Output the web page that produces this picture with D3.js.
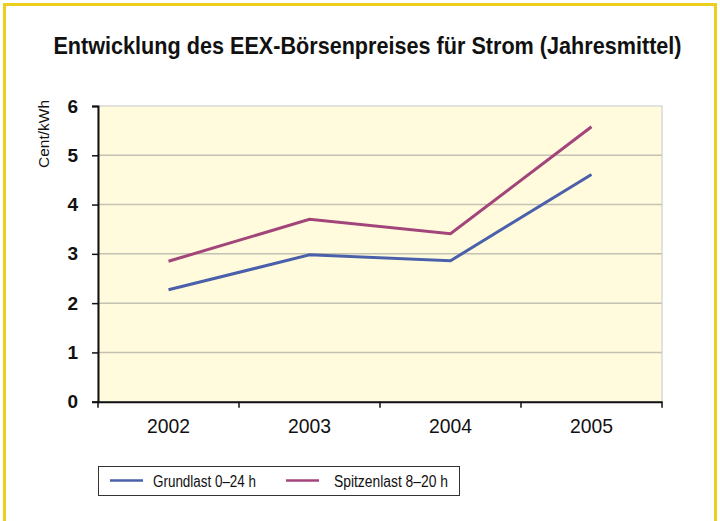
<!DOCTYPE html>
<html>
<head>
<meta charset="utf-8">
<script src="https://cdn.jsdelivr.net/npm/d3@7"></script>
<style>
  body { margin: 0; background: #fff; }
  svg { display: block; }
</style>
</head>
<body>
<div id="chart"></div>
<script>
// data
var years = ['2002', '2003', '2004', '2005'];
var grundlast = [2.27, 2.98, 2.86, 4.61];
var spitzenlast = [2.85, 3.70, 3.41, 5.58];
var seriesNames = ['Grundlast 0\u201324 h', 'Spitzenlast 8\u201320 h'];
var yTicks = [0, 1, 2, 3, 4, 5, 6];

var width = 720;
var height = 521;
var margin = { top: 106, right: 58, bottom: 119.3, left: 98 };
var colors = ['#4a60aa', '#a2457b'];
var font = '"Liberation Sans", Arial, sans-serif';

var svg = d3.select('#chart').append('svg')
  .attr('width', width).attr('height', height);

// yellow outer frame (bottom edge runs off the picture)
svg.append('rect')
  .attr('x', 4.5).attr('y', 4.5)
  .attr('width', 711).attr('height', 540)
  .attr('fill', '#fff')
  .attr('stroke', '#eccf1c').attr('stroke-width', 3);

// the original face is a condensed one, so squeeze the title horizontally
svg.append('text')
  .attr('transform', 'translate(367.5,53.5) scale(0.94,1)')
  .attr('text-anchor', 'middle')
  .attr('font-family', font).attr('font-weight', 'bold')
  .attr('font-size', 23).attr('fill', '#111')
  .text('Entwicklung des EEX-B\u00f6rsenpreises f\u00fcr Strom (Jahresmittel)');

var x = d3.scaleBand().domain(years)
  .range([margin.left, width - margin.right]);
var y = d3.scaleLinear().domain([0, 6])
  .range([height - margin.bottom, margin.top]);

// plot area
svg.append('rect')
  .attr('x', x.range()[0]).attr('y', y(6))
  .attr('width', x.range()[1] - x.range()[0])
  .attr('height', y(0) - y(6))
  .attr('fill', '#fffbdc')
  .attr('stroke', '#d9d9d9').attr('stroke-width', 1.5);

// grid lines
svg.append('g').selectAll('line')
  .data(yTicks.filter(function (d) { return d > 0 && d < 6; }))
  .join('line')
  .attr('x1', x.range()[0]).attr('x2', x.range()[1])
  .attr('y1', function (d) { return y(d); })
  .attr('y2', function (d) { return y(d); })
  .attr('stroke', '#c4c2b4').attr('stroke-width', 1.5);

// y axis
var yAxis = svg.append('g')
  .attr('transform', 'translate(' + x.range()[0] + ',0)')
  .call(d3.axisLeft(y).tickValues(yTicks).tickFormat(d3.format('d'))
    .tickSize(6).tickPadding(14));
yAxis.select('.domain').attr('stroke', '#111').attr('stroke-width', 2);
yAxis.selectAll('.tick line').attr('stroke', '#111').attr('stroke-width', 1.5);
yAxis.selectAll('.tick text')
  .attr('font-family', font).attr('font-weight', 'bold')
  .attr('font-size', 19).attr('fill', '#111');

// x axis, ticks at band edges
var xAxis = svg.append('g')
  .attr('transform', 'translate(0,' + y(0) + ')')
  .call(d3.axisBottom(x).tickSize(0).tickPadding(16));
xAxis.select('.domain').attr('stroke', '#111').attr('stroke-width', 2);
xAxis.selectAll('.tick text')
  .attr('font-family', font)
  .attr('font-size', 21).attr('fill', '#111')
  .attr('textLength', 43).attr('lengthAdjust', 'spacingAndGlyphs');
xAxis.selectAll('.edge')
  .data(years.map(function (d) { return x(d); }).concat([x.range()[1]]))
  .join('line')
  .attr('class', 'edge')
  .attr('x1', function (d) { return d; }).attr('x2', function (d) { return d; })
  .attr('y1', 0).attr('y2', 6)
  .attr('stroke', '#111').attr('stroke-width', 1.5);

svg.append('text')
  .attr('transform', 'translate(49,168) rotate(-90)')
  .attr('textLength', 68).attr('lengthAdjust', 'spacingAndGlyphs')
  .attr('font-family', font)
  .attr('font-size', 15).attr('fill', '#111')
  .text('Cent/kWh');

// lines
var line = d3.line()
  .x(function (d, i) { return x(years[i]) + x.bandwidth() / 2; })
  .y(function (d) { return y(d); });

[grundlast, spitzenlast].forEach(function (vals, i) {
  svg.append('path')
    .attr('d', line(vals))
    .attr('fill', 'none')
    .attr('stroke', colors[i]).attr('stroke-width', 3);
});

// legend
var legend = svg.append('g');
legend.append('rect')
  .attr('x', 98.5).attr('y', 466.5)
  .attr('width', 361).attr('height', 29)
  .attr('fill', '#fff').attr('stroke', '#333').attr('stroke-width', 1);
var legX = [110, 286];
var legTextX = [153, 334];
var legTextW = [103, 114];
seriesNames.forEach(function (name, i) {
  legend.append('line')
    .attr('x1', legX[i]).attr('x2', legX[i] + 33)
    .attr('y1', 480.5).attr('y2', 480.5)
    .attr('stroke', colors[i]).attr('stroke-width', 2.5);
  legend.append('text')
    .attr('x', legTextX[i]).attr('y', 486.5)
    .attr('textLength', legTextW[i]).attr('lengthAdjust', 'spacingAndGlyphs')
    .attr('font-family', font)
    .attr('font-size', 16).attr('fill', '#111')
    .text(name);
});
</script>
</body>
</html>
